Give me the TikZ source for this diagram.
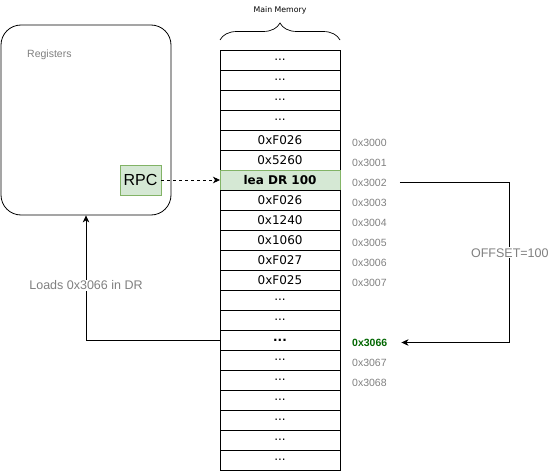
\documentclass[tikz,border=0pt]{standalone}
\usepackage{fontspec}
\setmainfont{Liberation Sans}
\newfontfamily\cellfont{DejaVu Sans}
\usetikzlibrary{arrows.meta, positioning, decorations.pathreplacing}
\definecolor{notegray}{HTML}{808080}
\definecolor{rpcfill}{HTML}{D5E8D4}
\definecolor{rpcline}{HTML}{82B366}
\definecolor{hitgreen}{HTML}{006600}

\begin{document}
\begin{tikzpicture}[
    x=1pt, y=-1pt,
    cell/.style={
        draw,
        minimum width=120pt,
        minimum height=20pt,
        inner sep=0pt,
        outer sep=0pt,
        font=\cellfont\fontsize{12}{14}\selectfont,
    },
    addr/.style={
        inner sep=0pt,
        text=notegray,
        font=\fontsize{10.5}{12}\selectfont,
        yshift=-2.5pt,
    },
    note/.style={
        fill=white,
        inner sep=1pt,
        text=notegray,
        font=\fontsize{12.5}{14}\selectfont,
    },
    jump/.style={
        line width=0.8pt,
        -{Stealth[length=7pt, width=6.5pt, inset=2pt]},
    },
    regs/.style={
        draw,
        line width=0.8pt,
        rounded corners=20pt,
        minimum width=170pt,
        minimum height=190pt,
    },
    rpcbox/.style={
        draw=rpcline,
        fill=rpcfill,
        line width=0.8pt,
        minimum width=41pt,
        minimum height=30pt,
        inner sep=0pt,
        font=\fontsize{16}{18}\selectfont,
    },
]
    \useasboundingbox (0,0) rectangle (555,471);

    % Registers
    \node[regs] (regs) at (86,120) {};
    \node[note, anchor=west, inner sep=0pt, font=\fontsize{10.5}{12}\selectfont] (regtitle) at (27,55) {Registers};
    \node[rpcbox] (rpc) at (140.5,180) {RPC};

    % Memory cells
    \node[cell] (mem1) at (280,60) {...};
    \node[cell, below=0pt of mem1] (mem2) {...};
    \node[cell, below=0pt of mem2] (mem3) {...};
    \node[cell, below=0pt of mem3] (mem4) {...};
    \node[cell, below=0pt of mem4] (mem5) {0xF026};
    \node[cell, below=0pt of mem5] (mem6) {0x5260};
    \node[cell, below=0pt of mem6, draw=rpcline, fill=rpcfill] (mem7) {\bfseries lea DR 100};
    \node[cell, below=0pt of mem7] (mem8) {0xF026};
    \node[cell, below=0pt of mem8] (mem9) {0x1240};
    \node[cell, below=0pt of mem9] (mem10) {0x1060};
    \node[cell, below=0pt of mem10] (mem11) {0xF027};
    \node[cell, below=0pt of mem11] (mem12) {0xF025};
    \node[cell, below=0pt of mem12] (mem13) {...};
    \node[cell, below=0pt of mem13] (mem14) {...};
    \node[cell, below=0pt of mem14] (mem15) {\bfseries ...};
    \node[cell, below=0pt of mem15] (mem16) {...};
    \node[cell, below=0pt of mem16] (mem17) {...};
    \node[cell, below=0pt of mem17] (mem18) {...};
    \node[cell, below=0pt of mem18] (mem19) {...};
    \node[cell, below=0pt of mem19] (mem20) {...};
    \node[cell, below=0pt of mem20] (mem21) {...};

    % Brace and title
    \draw[decorate, decoration={brace, amplitude=17pt}, line width=0.7pt]
        ([yshift=10pt]mem1.north west) -- ([yshift=10pt]mem1.north east);
    \node[font=\cellfont\fontsize{7.8}{9}\selectfont] (memtitle) at ([yshift=40pt]mem1.north) {Main Memory};

    % Addresses
    \node[addr, right=12pt of mem5] (a3000) {0x3000};
    \node[addr, right=12pt of mem6] (a3001) {0x3001};
    \node[addr, right=12pt of mem7] (a3002) {0x3002};
    \node[addr, right=12pt of mem8] (a3003) {0x3003};
    \node[addr, right=12pt of mem9] (a3004) {0x3004};
    \node[addr, right=12pt of mem10] (a3005) {0x3005};
    \node[addr, right=12pt of mem11] (a3006) {0x3006};
    \node[addr, right=12pt of mem12] (a3007) {0x3007};
    \node[addr, right=12pt of mem15, text=hitgreen, font=\bfseries\fontsize{10.5}{12}\selectfont] (a3066) {0x3066};
    \node[addr, right=12pt of mem16] (a3067) {0x3067};
    \node[addr, right=12pt of mem17] (a3068) {0x3068};

    % Connectors
    \draw[jump, dash pattern=on 3pt off 3pt] (rpc.east) -- (mem7.west);
    \draw[jump] ([xshift=13pt]a3002.east) -- ([xshift=123pt]a3002.east)
        |- node[note, pos=0.22] {OFFSET=100} ([xshift=14pt]a3066.east);
    \draw[jump] (mem15.west) -| node[note, pos=0.72] {Loads 0x3066 in DR} (regs.south);
\end{tikzpicture}
\end{document}
